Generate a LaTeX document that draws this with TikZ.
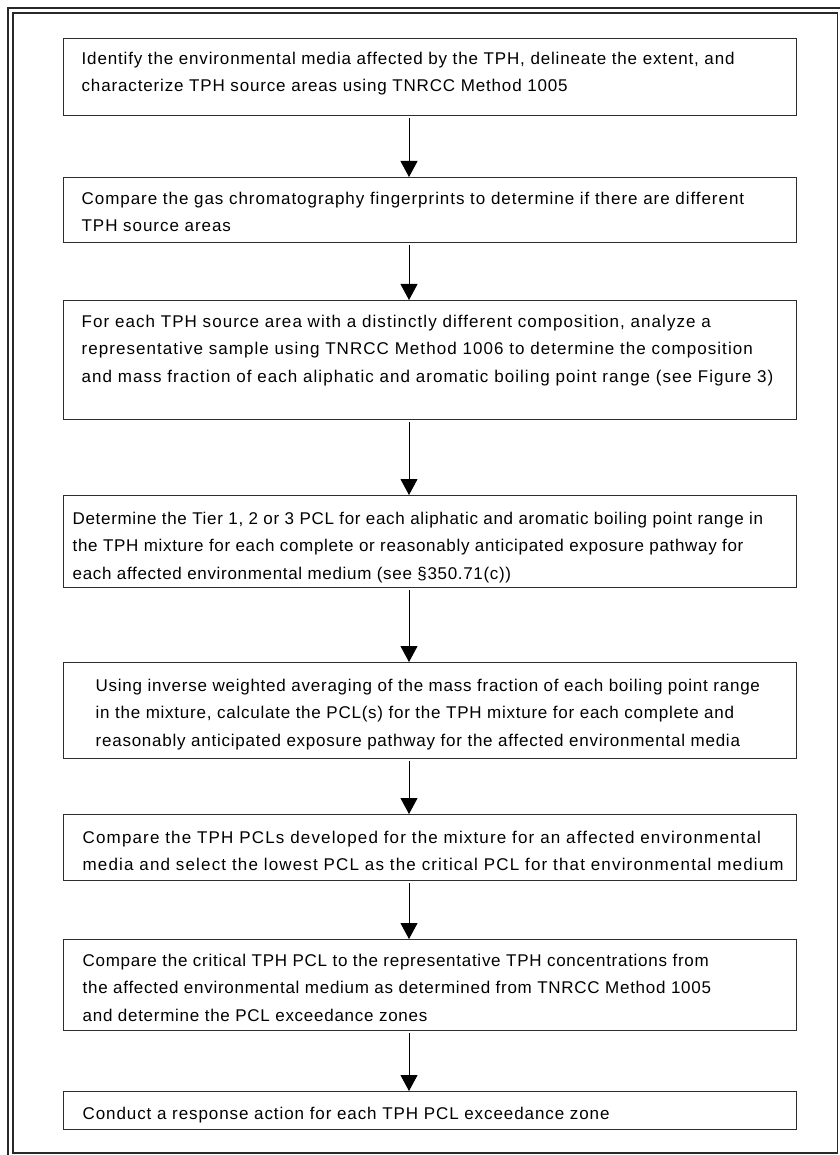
\documentclass[tikz,border=0pt]{standalone}
\usepackage{fontspec}
\setmainfont{Liberation Sans}[LetterSpace=4]
\usetikzlibrary{arrows.meta}
\definecolor{framec}{RGB}{40,40,40}
\definecolor{boxc}{RGB}{45,45,45}
\newcommand\bxt[5]{\parbox[c][#2pt][t]{733pt}{\addfontfeature{LetterSpace=#4}\leftskip=#1pt\rightskip=-200pt plus 1fil\parindent=0pt\parfillskip=0pt plus 1fil\rule{0pt}{#3pt}#5}}
\tikzset{
  stepbox/.style={draw=boxc, line width=1.3pt, inner sep=0pt, anchor=north west,
    font=\fontsize{17}{27.3}\selectfont},
  flow/.style={draw=black, line width=1pt, -{Triangle[width=17pt,length=16pt]}},
  frameline/.style={draw=framec, line width=1.4pt}
}
\begin{document}
\begin{tikzpicture}[x=1pt,y=1pt]
\useasboundingbox (0,0) rectangle (839,-1155);
\fill[white] (0,0) rectangle (839,-1155);
\draw[frameline] (8,-8) rectangle (846,-1162);
\draw[frameline] (13,-13) rectangle (837.5,-1153);
\coordinate (ax) at (409,0);
\node[stepbox] (b1) at (63,-38) {\bxt{18}{77}{26}{5}{Identify the environmental media affected by the TPH, delineate the extent, and\\characterize TPH source areas using TNRCC Method 1005}};
\node[stepbox] (b2) at (63,-177) {\bxt{18}{65}{27}{5.6}{Compare the gas chromatography fingerprints to determine if there are different\\TPH source areas}};
\node[stepbox] (b3) at (63,-300) {\bxt{18}{119}{27}{6.2}{For each TPH source area with a distinctly different composition, analyze a\\representative sample using TNRCC Method 1006 to determine the composition\\and mass fraction of each aliphatic and aromatic boiling point range (see Figure 3)}};
\node[stepbox] (b4) at (63,-495) {\bxt{9}{92}{29}{4}{Determine the Tier 1, 2 or 3 PCL for each aliphatic and aromatic boiling point range in\\the TPH mixture for each complete or reasonably anticipated exposure pathway for\\each affected environmental medium (see §350.71(c))}};
\node[stepbox] (b5) at (63,-662) {\bxt{32}{96}{29}{4.5}{Using inverse weighted averaging of the mass fraction of each boiling point range\\in the mixture, calculate the PCL(s) for the TPH mixture for each complete and\\reasonably anticipated exposure pathway for the affected environmental media}};
\node[stepbox] (b6) at (63,-814) {\bxt{19}{66}{29}{6.8}{Compare the TPH PCLs developed for the mixture for an affected environmental\\media and select the lowest PCL as the critical PCL for that environmental medium}};
\node[stepbox] (b7) at (63,-939) {\bxt{19}{91}{27}{4.3}{Compare the critical TPH PCL to the representative TPH concentrations from\\the affected environmental medium as determined from TNRCC Method 1005\\and determine the PCL exceedance zones}};
\node[stepbox] (b8) at (63,-1091) {\bxt{19}{38}{28}{5.4}{Conduct a response action for each TPH PCL exceedance zone}};
\foreach \a/\b in {b1/b2,b2/b3,b3/b4,b4/b5,b5/b6,b6/b7,b7/b8}
  \draw[flow] ([yshift=-2pt]\a.south -| ax) -- (\b.north -| ax);
\end{tikzpicture}
\end{document}
